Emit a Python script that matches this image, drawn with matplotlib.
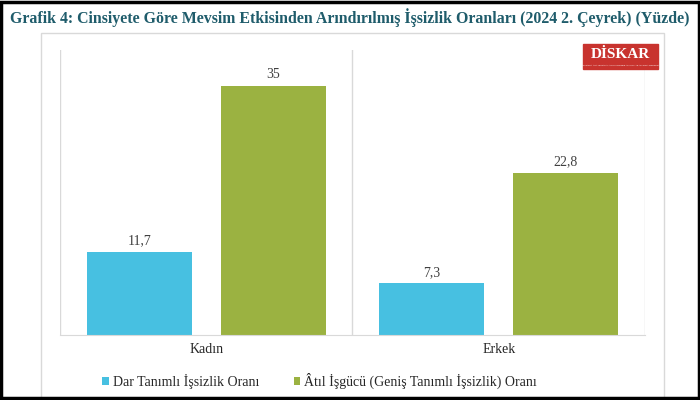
import matplotlib.pyplot as plt
from matplotlib.patches import Rectangle

# Veriler
kategoriler = ["Kadın", "Erkek"]
dar_tanimli = [11.7, 7.3]
atil_isgucu = [35, 22.8]
seri_adlari = ["Dar Tanımlı İşsizlik Oranı", "Âtıl İşgücü (Geniş Tanımlı İşsizlik) Oranı"]
baslik = "Grafik 4: Cinsiyete Göre Mevsim Etkisinden Arındırılmış İşsizlik Oranları (2024 2. Çeyrek) (Yüzde)"

mavi = "#47C0E1"
yesil = "#9BB241"
gri = "#D9D9D9"
serif = ["Liberation Serif", "DejaVu Serif"]

def etiket(v):
    return f"{v:g}".replace(".", ",")

fig = plt.figure(figsize=(7, 4), dpi=100)
ax = fig.add_axes([0.0857, 0.1625, 0.8357, 0.7125])

x = list(range(len(kategoriler)))
genislik = 0.36
ofset = 0.229
b1 = ax.bar([i - ofset for i in x], dar_tanimli, genislik, color=mavi, label=seri_adlari[0])
b2 = ax.bar([i + ofset for i in x], atil_isgucu, genislik, color=yesil, label=seri_adlari[1])

for bars, vals in ((b1, dar_tanimli), (b2, atil_isgucu)):
    for r, v in zip(bars, vals):
        ax.annotate(etiket(v), (r.get_x() + r.get_width() / 2, v), xytext=(0, 3),
                    textcoords="offset points", ha="center", va="bottom",
                    fontsize=10, family=serif, color="#404040")

ax.set_xlim(-0.5, 1.5)
ax.set_ylim(0, 40)
ax.set_xticks(x)
ax.set_xticklabels(kategoriler, fontsize=10, family=serif, color="#262626")
ax.set_xticks([-0.5, 0.5, 1.5], minor=True)
ax.tick_params(axis="x", which="both", length=0, pad=6)
ax.set_yticks([])
ax.grid(which="minor", axis="x", color=gri, linewidth=1)
for s in ("left", "right", "top"):
    ax.spines[s].set_visible(False)
ax.spines["bottom"].set_color(gri)

ax.legend(loc="upper center", bbox_to_anchor=(0.444, -0.09), ncol=2, frameon=False,
          prop={"family": serif, "size": 10}, handlelength=0.45, handleheight=0.45,
          handletextpad=0.3, columnspacing=2.5, labelcolor="#262626")

# Başlık
fig.text(0.5, 0.955, baslik, ha="center", va="center", fontsize=11.4,
         fontweight="bold", family=serif, color="#1F5C6B")

# İç çerçeve ve dış siyah kenarlık
fig.patches.append(Rectangle((41 / 700, 0.0), 623 / 700, 1 - 33 / 400, transform=fig.transFigure,
                             fill=False, edgecolor=gri, linewidth=1))
fig.patches.append(Rectangle((0.002, 0.004), 0.996, 0.992, transform=fig.transFigure,
                             fill=False, edgecolor="black", linewidth=2.5))

# DİSKAR logosu
fig.patches.append(Rectangle((583 / 700, 1 - 69 / 400), 75 / 700, 25 / 400,
                             transform=fig.transFigure, color="#C8332E"))
fig.text(620 / 700, 1 - 54 / 400, "DİSKAR", ha="center", va="center", fontsize=11,
         fontweight="bold", color="white", family=serif)
fig.text(620 / 700, 1 - 65 / 400, "DEVRİMCİ İŞÇİ SENDİKALARI KONFEDERASYONU ARAŞTIRMA MERKEZİ",
         ha="center", va="center", fontsize=1.6, color="white", family=serif)

fig.savefig("out.png", dpi=100)
